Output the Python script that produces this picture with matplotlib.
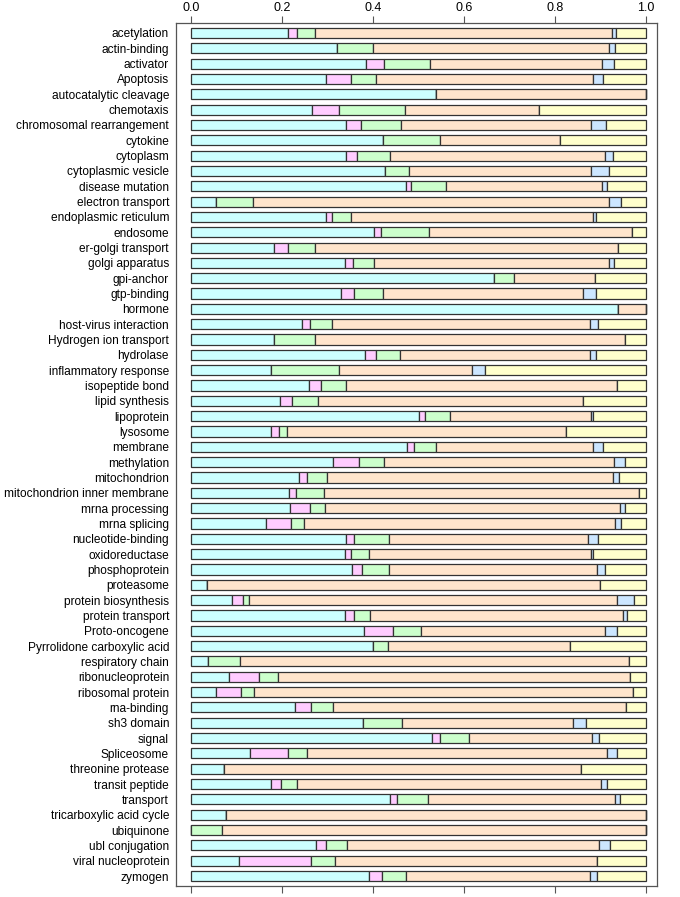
import numpy as np
import matplotlib
matplotlib.use("Agg")
import matplotlib.pyplot as plt

plt.rcParams['font.family'] = ['Liberation Sans', 'DejaVu Sans']

# categories (top to bottom)
termos = ["acetylation", "actin-binding", "activator", "Apoptosis", "autocatalytic cleavage",
          "chemotaxis", "chromosomal rearrangement", "cytokine", "cytoplasm", "cytoplasmic vesicle",
          "disease mutation", "electron transport", "endoplasmic reticulum", "endosome",
          "er-golgi transport", "golgi apparatus", "gpi-anchor", "gtp-binding", "hormone",
          "host-virus interaction", "Hydrogen ion transport", "hydrolase", "inflammatory response",
          "isopeptide bond", "lipid synthesis", "lipoprotein", "lysosome", "membrane", "methylation",
          "mitochondrion", "mitochondrion inner membrane", "mrna processing", "mrna splicing",
          "nucleotide-binding", "oxidoreductase", "phosphoprotein", "proteasome",
          "protein biosynthesis", "protein transport", "Proto-oncogene",
          "Pyrrolidone carboxylic acid", "respiratory chain", "ribonucleoprotein",
          "ribosomal protein", "rna-binding", "sh3 domain", "signal", "Spliceosome",
          "threonine protease", "transit peptide", "transport", "tricarboxylic acid cycle",
          "ubiquinone", "ubl conjugation", "viral nucleoprotein", "zymogen"]

# proportions per group (six stacked segments)
g1 = [.212, .320, .385, .297, .539, .265, .341, .421, .341, .426,
      .472, .054, .297, .402, .182, .338, .667, .330, .939, .243,
      .181, .382, .176, .259, .195, .500, .175, .474, .311, .236,
      .215, .216, .164, .341, .338, .354, .034, .089, .338, .380,
      .399, .036, .082, .054, .228, .377, .530, .128, .071, .176,
      .438, .077, 0, .275, .105, .391]
g2 = [.020, 0, .039, .055, 0, .059, .032, 0, .023, 0,
      .011, 0, .013, .016, .030, .018, 0, .028, 0, .018,
      0, .024, 0, .027, .027, .015, .018, .016, .057, .018,
      .016, .045, .055, .017, .013, .022, 0, .025, .020, .063,
      0, 0, .067, .055, .036, 0, .018, .084, 0, .021,
      .015, 0, 0, .022, .158, .028]
g3 = [.040, .079, .101, .055, 0, .146, .088, .126, .074, .053,
      .078, .081, .041, .105, .060, .046, .044, .063, 0, .048,
      .091, .054, .148, .054, .056, .055, .018, .049, .057, .045,
      .061, .034, .028, .076, .040, .059, 0, .012, .035, .063,
      .034, .071, .041, .028, .047, .086, .063, .043, 0, .035,
      .068, 0, .067, .046, .053, .054]
g4 = [.654, .520, .380, .476, .461, .295, .418, .265, .472, .400,
      .344, .784, .532, .448, .667, .517, .177, .441, .061, .568,
      .682, .417, .293, .597, .583, .310, .614, .346, .506, .629,
      .693, .648, .685, .440, .489, .457, .866, .811, .558, .405,
      .400, .857, .776, .835, .646, .377, .270, .660, .786, .669,
      .412, .923, .933, .554, .578, .404]
g5 = [.009, .014, .025, .024, 0, 0, .034, 0, .018, .041,
      .009, .027, .008, 0, 0, .012, 0, .028, 0, .018,
      0, .014, .029, 0, 0, .005, 0, .021, .023, .013,
      0, .011, .014, .022, .004, .018, 0, .037, .007, .026,
      0, 0, 0, 0, 0, .029, .017, .021, 0, .013,
      .010, 0, 0, .024, 0, .015]
g6 = [.065, .067, .070, .093, 0, .235, .087, .188, .072, .080,
      .086, .054, .109, .029, .061, .069, .112, .110, 0, .105,
      .046, .109, .354, .063, .139, .115, .175, .094, .046, .059,
      .015, .046, .054, .104, .116, .090, .100, .026, .042, .063,
      .167, .036, .034, .028, .043, .131, .102, .064, .143, .086,
      .057, 0, 0, .079, .106, .108]

grupos = [g1, g2, g3, g4, g5, g6]
cores = ["#CCFFFF", "#FFCCFF", "#CCFFCC", "#FFE5CC", "#CCE6FF", "#FFFFCC"]

fig = plt.figure(figsize=(6.8, 8.97), dpi=100)
ax = fig.add_axes([176 / 680, 1 - 886 / 897, (657 - 176) / 680, (886 - 23) / 897])

y = np.arange(len(termos))
base = np.zeros(len(termos))
for vals, cor in zip(grupos, cores):
    vals = np.array(vals, dtype=float)
    ax.barh(y, vals, left=base, height=0.66, color=cor, edgecolor="#333333", linewidth=0.9)
    base = base + vals

ax.set_xlim(-0.034, 1.025)
ax.set_ylim(len(termos) - 0.35, -0.65)
ax.set_yticks(y)
ax.set_yticklabels(termos, fontsize=8.6)
ax.tick_params(axis="y", length=0, pad=5)
ax.set_xticks([0, 0.2, 0.4, 0.6, 0.8, 1.0])
ax.set_xticklabels(["0.0", "0.2", "0.4", "0.6", "0.8", "1.0"], fontsize=9)
ax.tick_params(axis="x", top=True, bottom=True, labeltop=True, labelbottom=False,
               direction="out", length=5, pad=1.5, color="#555555")
for s in ax.spines.values():
    s.set_color("#555555")
    s.set_linewidth(0.9)

fig.savefig("out.png", dpi=100)
